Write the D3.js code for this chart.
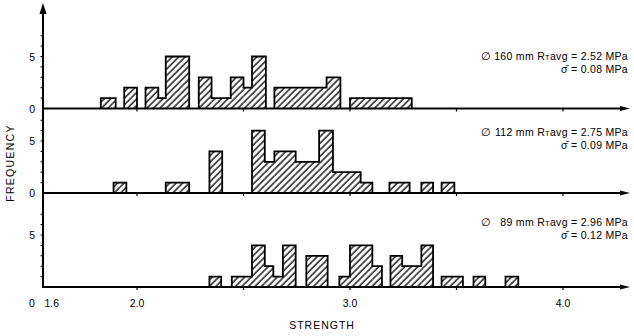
<!DOCTYPE html>
<html>
<head>
<meta charset="utf-8">
<script src="https://cdn.jsdelivr.net/npm/d3@7"></script>
<style>
  body { margin: 0; background: #fff; }
  svg { display: block; font-family: "Liberation Sans", Arial, sans-serif; }
</style>
</head>
<body>
<svg id="chart" width="634" height="336"></svg>
<script>
// histogram bins: [from, to, count], strength in MPa
let bins160 = [
  [1.83, 1.90, 1], [1.94, 2.00, 2], [2.04, 2.10, 2], [2.10, 2.135, 1], [2.135, 2.245, 5],
  [2.29, 2.35, 3], [2.35, 2.44, 1], [2.44, 2.50, 3], [2.50, 2.54, 2], [2.54, 2.605, 5],
  [2.645, 2.89, 2], [2.89, 2.955, 3], [3.00, 3.29, 1]
];
let bins112 = [
  [1.89, 1.95, 1], [2.135, 2.245, 1], [2.34, 2.40, 4], [2.54, 2.60, 6], [2.60, 2.645, 3],
  [2.645, 2.745, 4], [2.745, 2.855, 3], [2.855, 2.92, 6], [2.92, 3.05, 2], [3.05, 3.105, 1],
  [3.185, 3.28, 1], [3.335, 3.39, 1], [3.43, 3.49, 1]
];
let bins89 = [
  [2.34, 2.395, 1], [2.445, 2.54, 1], [2.54, 2.60, 4], [2.60, 2.64, 2], [2.64, 2.685, 1],
  [2.685, 2.745, 4], [2.795, 2.895, 3], [2.95, 3.00, 1], [3.00, 3.105, 4], [3.105, 3.15, 2],
  [3.19, 3.245, 3], [3.245, 3.335, 2], [3.335, 3.39, 4], [3.43, 3.53, 1], [3.58, 3.635, 1],
  [3.73, 3.79, 1]
];
let panelNames = ["160", "112", "89"];
let avgLabels = ["2.52", "2.75", "2.96"];
let sigmaLabels = ["0.08", "0.09", "0.12"];
let xTickVals = [2.0, 2.5, 3.0, 3.5, 4.0];
let xTickLabels = ["2.0", "3.0", "4.0"];

let svg = d3.select("#chart");

let x = d3.scaleLinear().domain([2.0, 4.0]).range([137, 563]);
let x0 = 43, xEnd = 630;
let bases = [108.5, 193, 287];
let ys = bases.map(b => d3.scaleLinear().domain([0, 5]).range([b, b - 52]));
let allBins = [bins160, bins112, bins89];

let defs = svg.append("defs");
defs.append("pattern")
  .attr("id", "hatch")
  .attr("patternUnits", "userSpaceOnUse")
  .attr("width", 4.6).attr("height", 4.6)
  .attr("patternTransform", "rotate(45)")
  .append("line")
  .attr("x1", 1).attr("y1", 0).attr("x2", 1).attr("y2", 4.6)
  .attr("stroke", "#000").attr("stroke-width", 1.3);

let line = d3.line();

// y axis with arrow
svg.append("line")
  .attr("x1", x0).attr("x2", x0)
  .attr("y1", bases[2] + 1).attr("y2", 10)
  .attr("stroke", "#000").attr("stroke-width", 2);
svg.append("path")
  .attr("d", line([[x0 - 3.5, 14], [x0, 3], [x0 + 3.5, 14]]) + "Z")
  .attr("fill", "#000");

allBins.forEach((bins, p) => {
  let y = ys[p];
  let g = svg.append("g").attr("class", "panel");

  // hatched bars
  g.selectAll("rect").data(bins).enter().append("rect")
    .attr("x", d => x(d[0]))
    .attr("width", d => x(d[1]) - x(d[0]))
    .attr("y", d => y(d[2]))
    .attr("height", d => y(0) - y(d[2]))
    .attr("fill", "url(#hatch)");

  // outline of contiguous groups
  let groups = [];
  bins.forEach(d => {
    let last = groups[groups.length - 1];
    if (last && Math.abs(last[last.length - 1][1] - d[0]) < 1e-6) last.push(d);
    else groups.push([d]);
  });
  groups.forEach(grp => {
    let pts = [[x(grp[0][0]), y(0)]];
    grp.forEach(d => {
      pts.push([x(d[0]), y(d[2])]);
      pts.push([x(d[1]), y(d[2])]);
    });
    pts.push([x(grp[grp.length - 1][1]), y(0)]);
    g.append("path")
      .attr("d", line(pts))
      .attr("fill", "none")
      .attr("stroke", "#000")
      .attr("stroke-width", 1.8)
      .attr("stroke-linejoin", "miter");
  });

  // x axis baseline with arrow
  g.append("line")
    .attr("x1", x0).attr("x2", xEnd - 6)
    .attr("y1", y(0)).attr("y2", y(0))
    .attr("stroke", "#000").attr("stroke-width", 1.8);
  g.append("path")
    .attr("d", line([[xEnd - 10, y(0) - 2.5], [xEnd, y(0)], [xEnd - 10, y(0) + 2.5]]) + "Z")
    .attr("fill", "#000");

  // x ticks under the baseline
  g.selectAll(".xt").data(xTickVals).enter().append("line")
    .attr("x1", d => x(d)).attr("x2", d => x(d))
    .attr("y1", y(0)).attr("y2", y(0) + 3)
    .attr("stroke", "#000").attr("stroke-width", 1.2);

  // y ticks
  g.selectAll(".yt").data(d3.range(1, 8)).enter().append("line")
    .attr("x1", x0 - 2.5).attr("x2", x0)
    .attr("y1", d => y(d)).attr("y2", d => y(d))
    .attr("stroke", "#000").attr("stroke-width", 1);

  g.append("text")
    .attr("x", 35).attr("y", y(5) + 4)
    .attr("text-anchor", "end")
    .attr("font-size", 10.5)
    .text("5");
  if (p < 2) {
    g.append("text")
      .attr("x", 35).attr("y", y(0) + 4)
      .attr("text-anchor", "end")
      .attr("font-size", 10.5)
      .text("0");
  }

  // annotation
  let tx = 628, ty = [57, 133, 223][p];
  let t = g.append("text")
    .attr("x", tx).attr("y", ty + 3)
    .attr("text-anchor", "end")
    .attr("font-size", 10.5)
    .attr("letter-spacing", 0.3);
  t.append("tspan").text("\u2205 " + (panelNames[p].length < 3 ? "\u2007" : "") + panelNames[p] + " mm R");
  t.append("tspan").attr("font-size", 7.5).text("T");
  t.append("tspan").text("avg = " + avgLabels[p] + " MPa");
  g.append("text")
    .attr("x", tx).attr("y", ty + 16)
    .attr("text-anchor", "end")
    .attr("font-size", 10.5)
    .attr("letter-spacing", 0.3)
    .text("\u03c3\u0304 = " + sigmaLabels[p] + " MPa");
});

// bottom tick labels
let labY = 307;
svg.append("text").attr("x", 32).attr("y", labY).attr("text-anchor", "middle")
  .attr("font-size", 10.5).text("0");
svg.append("text").attr("x", x(1.6)).attr("y", labY).attr("text-anchor", "middle")
  .attr("font-size", 10.5).text("1.6");
svg.selectAll(".xl").data(xTickLabels).enter().append("text")
  .attr("x", d => x(+d)).attr("y", labY)
  .attr("text-anchor", "middle")
  .attr("font-size", 10.5)
  .text(d => d);

svg.append("text")
  .attr("x", 322).attr("y", 329)
  .attr("text-anchor", "middle")
  .attr("font-size", 10.5)
  .attr("letter-spacing", 1)
  .text("STRENGTH");

svg.append("text")
  .attr("transform", "translate(14,163) rotate(-90)")
  .attr("text-anchor", "middle")
  .attr("font-size", 10.5)
  .attr("letter-spacing", 1.3)
  .text("FREQUENCY");
</script>
</body>
</html>
